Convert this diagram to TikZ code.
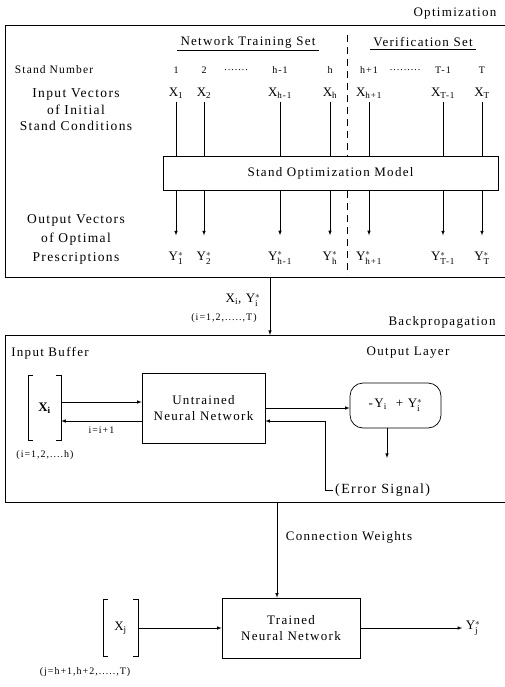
\documentclass[tikz,border=0pt]{standalone}
\usepackage{amsmath}
\usepackage{fontspec}
\setmainfont{Liberation Serif}[LetterSpace=10]
\usetikzlibrary{positioning}

\newcommand{\VX}[1]{X$_{\text{#1}}$}
\newcommand{\VY}[1]{Y$^{*}_{\text{#1}}$}

\tikzset{
  frame/.style={line width=0.7pt},
  modelbox/.style={draw, line width=0.7pt, fill=white, align=center},
  small/.style={font=\fontsize{10}{12}\selectfont},
  link/.style={line width=0.6pt},
}

\begin{document}
\begin{tikzpicture}[x=1pt, y=-1pt, >=latex, font=\fontsize{13}{16}\selectfont]
\useasboundingbox (0,0) rectangle (505,687);

% optimization block
\node (opt) at (455,14) {Optimization};
\draw[frame] (505,25) -- (5,25) -- (5,277) -- (505,277);
\node (nts) at (248,42) {Network Training Set};
\draw[link] ([yshift=1pt]nts.south west) -- ([yshift=1pt]nts.south east);
\node (vs) at (423,42) {Verification Set};
\draw[link] ([yshift=1pt]vs.south west) -- ([yshift=1pt]vs.south east);

\coordinate (divtop) at (347,35);
\coordinate (divbot) at (347,275);
\draw[link, dash pattern=on 7pt off 5pt] (divtop) -- (divbot);

\node[font=\fontsize{11.5}{13}\selectfont] (stnum) at (54,70) {Stand Number};
\node[align=center, font=\fontsize{13.5}{16.5}\selectfont] (inlbl) at (76,110) {Input Vectors\\of Initial\\Stand Conditions};
\node[align=center, font=\fontsize{13.5}{19}\selectfont] (outlbl) at (76,239) {Output Vectors\\of Optimal\\Prescriptions};

\node[modelbox, minimum width=335pt, minimum height=34pt] (model) at (330.5,173) {Stand Optimization Model};

\node[small] (dots1) at (236,70) {.......};
\node[small] (dots2) at (405,70) {.........};
\foreach \k/\xx/\s in {1/176/1, 2/204/2, 3/280/h-1, 4/330/h, 5/369/h+1, 6/443/T-1, 7/482/T}{
  \node[small] (n\k) at (\xx,70) {\s};
  \node (x\k) at (\xx,93) {\VX{\s}};
  \node (y\k) at (\xx,258) {\VY{\s}};
  \draw[link] (x\k.south) -- (x\k.south |- model.north);
  \draw[link, ->, shorten >=13pt] (y\k.north |- model.south) -- (y\k.north);
}

% between the blocks
\coordinate (optbot) at (270,277);
\coordinate (bpptop) at (270,335);
\draw[link, ->] (optbot) -- (bpptop);
\node (xy) at (243,300) {\VX{i}, \VY{i}};
\node[small] (irange) at (224,318) {(i=1,2,.....,T)};

% backpropagation block
\node (bpp) at (442,322) {Backpropagation};
\draw[frame] (505,335) -- (5,335) -- (5,502) -- (505,502);
\node (inbuf) at (50,353) {Input Buffer};
\node (outlay) at (408,353) {Output Layer};

\node[minimum width=33pt, minimum height=65pt] (xi) at (44.5,408) {$\mathbf{X}_{\mathbf{i}}$};
\draw[link] ([xshift=5pt]xi.north west) -- (xi.north west) -- (xi.south west) -- ([xshift=5pt]xi.south west);
\draw[link] ([xshift=-5pt]xi.north east) -- (xi.north east) -- (xi.south east) -- ([xshift=-5pt]xi.south east);
\node[small] (hrange) at (45,455) {(i=1,2,....h)};

\node[modelbox, minimum width=123pt, minimum height=70pt] (untr) at (203.5,408) {Untrained\\Neural Network};
\node[modelbox, rounded corners=13pt, minimum width=91pt, minimum height=45pt] (outl) at (395.5,405.5) {-Y$_{\text{i}}$ \ + Y$^{*}_{\text{i}}$};

\draw[link, ->] ([yshift=6pt]xi.east) -- ([yshift=6pt]xi.east -| untr.west);
\draw[link, ->] ([yshift=-13pt]untr.west) -- ([yshift=-13pt]untr.west -| xi.east)
  node[midway, below=2pt, small] (inc) {i=i+1};
\draw[link, ->] (untr.east) -- (untr.east -| outl.west);

\node[anchor=west, inner sep=2pt, font=\fontsize{14}{16}\selectfont] (err) at (333,490) {(Error Signal)};
\coordinate (errtip) at (387,458);
\draw[link, ->] (outl.south -| errtip) -- (errtip);
\draw[link, ->] (err.west) -- ++(-8,0) |- ([yshift=-13pt]untr.east);

% trained network
\coordinate (bppbot) at (277,502);
\node[modelbox, minimum width=138pt, minimum height=60pt] (trained) at (291,628) {Trained\\Neural Network};
\draw[link, ->] (bppbot) -- (bppbot |- trained.north);
\node (cw) at (349,537) {Connection Weights};

\node[minimum width=35pt, minimum height=57pt] (xj) at (120.5,628) {\VX{j}};
\draw[link] ([xshift=5pt]xj.north west) -- (xj.north west) -- (xj.south west) -- ([xshift=5pt]xj.south west);
\draw[link] ([xshift=-5pt]xj.north east) -- (xj.north east) -- (xj.south east) -- ([xshift=-5pt]xj.south east);
\node[small] (jrange) at (85,672) {(j=h+1,h+2,.....,T)};

\node (yj) at (473,628) {\VY{j}};
\draw[link, ->] (xj.east) -- (trained.west);
\draw[link, ->] (trained.east) -- (yj.west);
\end{tikzpicture}
\end{document}
